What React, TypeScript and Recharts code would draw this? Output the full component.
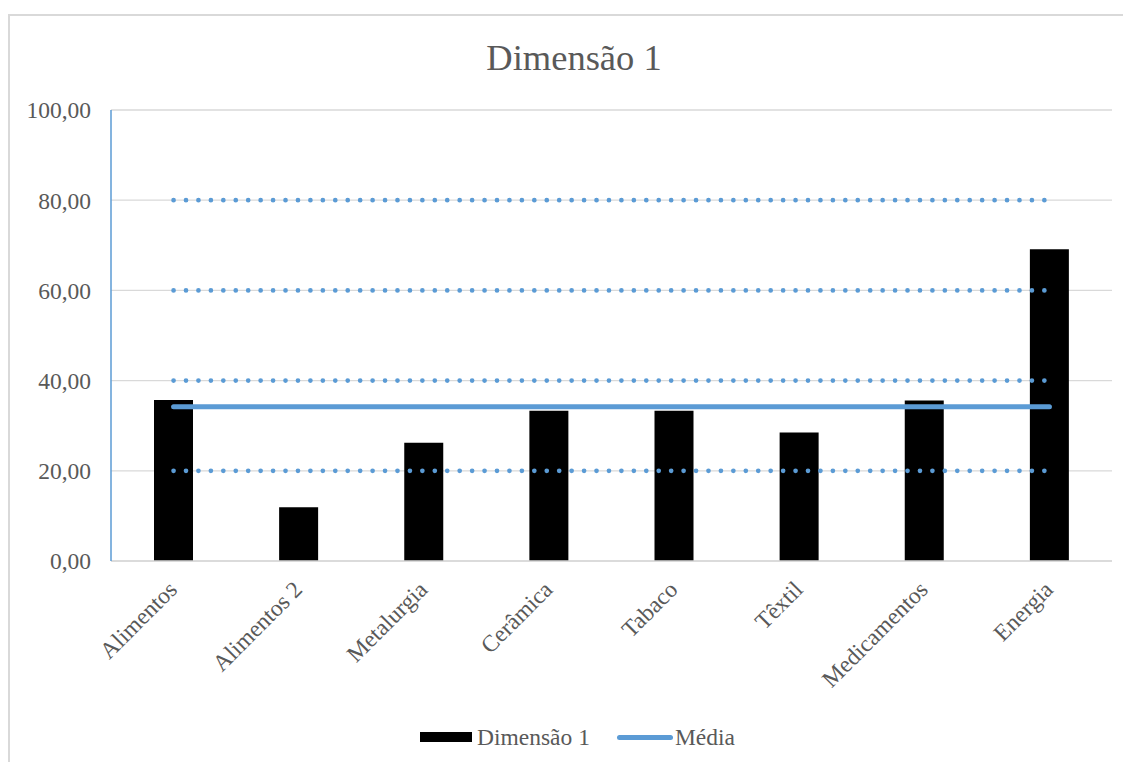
import {
  Bar,
  CartesianGrid,
  ComposedChart,
  Legend,
  Line,
  XAxis,
  YAxis,
} from "recharts";

const categories = [
  "Alimentos",
  "Alimentos 2",
  "Metalurgia",
  "Cerâmica",
  "Tabaco",
  "Têxtil",
  "Medicamentos",
  "Energia",
];
const dimensao1 = [35.7, 11.9, 26.2, 33.3, 33.3, 28.5, 35.6, 69.1];
const media = [34.2, 34.2, 34.2, 34.2, 34.2, 34.2, 34.2, 34.2];
const ref20 = [20, 20, 20, 20, 20, 20, 20, 20];
const ref40 = [40, 40, 40, 40, 40, 40, 40, 40];
const ref60 = [60, 60, 60, 60, 60, 60, 60, 60];
const ref80 = [80, 80, 80, 80, 80, 80, 80, 80];
const yTicks = [0, 20, 40, 60, 80, 100];

const BLUE = "#5b9bd5";
const TEXT = "#595959";
const GRID = "#d9d9d9";
const FONT = "Liberation Serif, DejaVu Serif, Tinos, serif";

const data = categories.map((name, i) => ({
  name,
  dim: dimensao1[i],
  media: media[i],
  r20: ref20[i],
  r40: ref40[i],
  r60: ref60[i],
  r80: ref80[i],
}));

const fmt = (v: number) => v.toFixed(2).replace(".", ",");

function XTick(props: any) {
  const { x, y, payload } = props;
  return (
    <text
      transform={`translate(${x + 5},${y + 30}) rotate(-45)`}
      textAnchor="end"
      fill={TEXT}
      fontSize={23.5}
      style={{ fontFamily: FONT }}
    >
      {payload.value}
    </text>
  );
}

function YTick(props: any) {
  const { x, y, payload } = props;
  return (
    <text
      x={x}
      y={y}
      dy="0.355em"
      textAnchor="end"
      fill={TEXT}
      fontSize={23.5}
      style={{ fontFamily: FONT }}
    >
      {fmt(payload.value)}
    </text>
  );
}

function LegendBox() {
  return (
    <div
      style={{
        height: 30,
        display: "flex",
        alignItems: "center",
        paddingLeft: 410,
        fontFamily: FONT,
        fontSize: 23.5,
        color: TEXT,
      }}
    >
      <span style={{ width: 52, height: 10, background: "#000" }} />
      <span style={{ marginLeft: 5 }}>Dimensão 1</span>
      <span
        style={{
          marginLeft: 27,
          width: 56,
          height: 5,
          borderRadius: 3,
          background: BLUE,
        }}
      />
      <span style={{ marginLeft: 2 }}>Média</span>
    </div>
  );
}

export default function App() {
  const dotted = {
    stroke: BLUE,
    strokeWidth: 4.7,
    strokeDasharray: "0 12.44",
    strokeLinecap: "round" as const,
    dot: false,
    activeDot: false,
    legendType: "none" as const,
    isAnimationActive: false,
    type: "linear" as const,
  };
  return (
    <div style={{ paddingTop: 6, fontFamily: FONT }}>
      <div
        style={{
          position: "relative",
          width: 1121,
          height: 746,
          borderTop: `2px solid ${GRID}`,
          borderLeft: `2px solid ${GRID}`,
          background: "#fff",
        }}
      >
        <div
          style={{
            position: "absolute",
            left: 0,
            top: 24,
            width: 1128,
            textAlign: "center",
            fontFamily: FONT,
            fontSize: 36.5,
            lineHeight: "36.5px",
            color: TEXT,
            zIndex: 1,
          }}
        >
          Dimensão 1
        </div>
        <ComposedChart
          width={1121}
          height={746}
          data={data}
          margin={{ top: 94, right: 19, left: 0, bottom: 10 }}
          style={{ fontFamily: FONT }}
        >
          <CartesianGrid vertical={false} stroke={GRID} strokeWidth={1.3} />
          <XAxis
            dataKey="name"
            interval={0}
            height={161}
            tickLine={false}
            tickSize={0}
            tickMargin={0}
            axisLine={{ stroke: GRID, strokeWidth: 1.3 }}
            tick={<XTick />}
          />
          <YAxis
            width={101}
            domain={[0, 100]}
            ticks={yTicks}
            tickLine={false}
            tickSize={0}
            tickMargin={20}
            axisLine={{ stroke: BLUE, strokeWidth: 1.5 }}
            tick={<YTick />}
          />
          <Bar dataKey="dim" fill="#000" barSize={39} isAnimationActive={false} />
          <Line dataKey="r20" {...dotted} />
          <Line dataKey="r40" {...dotted} />
          <Line dataKey="r60" {...dotted} />
          <Line dataKey="r80" {...dotted} />
          <Line
            dataKey="media"
            type="linear"
            stroke={BLUE}
            strokeWidth={5}
            strokeLinecap="round"
            dot={false}
            activeDot={false}
            isAnimationActive={false}
          />
          <Legend verticalAlign="bottom" content={<LegendBox />} />
        </ComposedChart>
      </div>
    </div>
  );
}
